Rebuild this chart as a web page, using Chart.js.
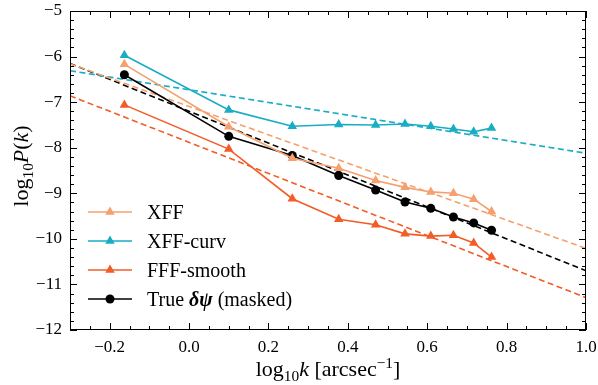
<!DOCTYPE html>
<html>
<head>
<meta charset="utf-8">
<script src="https://cdn.jsdelivr.net/npm/chart.js@4"></script>
<style>
  body { margin: 0; background: #fff; }
  #wrap { width: 598px; height: 385px; }
</style>
</head>
<body>
<div id="wrap"><canvas id="Chart" width="598" height="385"></canvas></div>
<script>
// log10 k of the bins
const logk = [-0.163, 0.100, 0.260, 0.377, 0.470, 0.544, 0.609, 0.666, 0.717, 0.762];

// log10 P(k) per reconstruction
const xff       = [-6.17, -7.54, -8.23, -8.45, -8.72, -8.87, -8.97, -9.00, -9.13, -9.40];
const xffCurv   = [-5.97, -7.17, -7.53, -7.49, -7.50, -7.48, -7.53, -7.59, -7.65, -7.57];
const fffSmooth = [-7.06, -8.03, -9.12, -9.57, -9.69, -9.89, -9.94, -9.92, -10.09, -10.40];
const trueMasked = [-6.40, -7.75, -8.17, -8.61, -8.93, -9.19, -9.33, -9.52, -9.65, -9.81];

// power-law fits, evaluated at the ends of the x range
const fitX = [-0.3, 1.0];
const xffFit       = [-6.16, -10.21];
const xffCurvFit   = [-6.31, -8.12];
const fffSmoothFit = [-6.86, -11.29];
const trueFit      = [-6.15, -10.70];

const xTicks = [-0.2, 0.0, 0.2, 0.4, 0.6, 0.8, 1.0];
const yTicks = [-12, -11, -10, -9, -8, -7, -6, -5];

const C_XFF = '#F5A06E';
const C_CURV = '#19ADC4';
const C_FFF = '#F25C26';
const C_TRUE = '#000000';

const SERIF = '"Liberation Serif", "DejaVu Serif", serif';

function pts(xs, ys) {
    return xs.map((x, i) => ({ x: x, y: ys[i] }));
}

function measured(label, ys, color, style) {
    return {
        label: label,
        data: pts(logk, ys),
        borderColor: color,
        backgroundColor: color,
        borderWidth: 1.6,
        pointStyle: style,
        pointRadius: style === 'circle' ? 4.5 : 5.5,
        pointBorderWidth: 0,
        tension: 0
    };
}

function fit(ys, color) {
    return {
        label: '',
        data: pts(fitX, ys),
        borderColor: color,
        borderWidth: 1.6,
        borderDash: [6, 3.5],
        pointRadius: 0,
        tension: 0
    };
}

const series = [
    { label: 'XFF', color: C_XFF, style: 'triangle' },
    { label: 'XFF-curv', color: C_CURV, style: 'triangle' },
    { label: 'FFF-smooth', color: C_FFF, style: 'triangle' },
    { label: 'True', color: C_TRUE, style: 'circle' }
];

function minus(s) {
    return s.replace('-', '\u2212');
}

// draw a run of text pieces (roman / italic / sub / sup) starting at x
function drawRun(ctx, parts, x, y, size) {
    parts.forEach(p => {
        const sz = p.small ? size * 0.7 : size;
        ctx.font = (p.style || '') + ' ' + sz + 'px ' + SERIF;
        ctx.fillText(p.t, x, y + (p.dy || 0));
        x += ctx.measureText(p.t).width;
    });
}

function runWidth(ctx, parts, size) {
    let w = 0;
    parts.forEach(p => {
        const sz = p.small ? size * 0.7 : size;
        ctx.font = (p.style || '') + ' ' + sz + 'px ' + SERIF;
        w += ctx.measureText(p.t).width;
    });
    return w;
}

// frame, inward ticks, axis titles and legend
const decorations = {
    id: 'decorations',
    afterDraw(chart) {
        const ctx = chart.ctx;
        const a = chart.chartArea;
        const xs = chart.scales.x;
        const ys = chart.scales.y;
        ctx.save();
        ctx.strokeStyle = '#000';
        ctx.lineWidth = 1;
        ctx.strokeRect(a.left + 0.5, a.top + 0.5, a.right - a.left - 1, a.bottom - a.top - 1);

        ctx.beginPath();
        for (let i = -6; i <= 20; i++) {
            const v = i * 0.05;
            if (v < -0.3001 || v > 1.0001) continue;
            const major = Math.abs(v * 5 - Math.round(v * 5)) < 1e-6;
            const len = major ? 7 : 4;
            const px = Math.round(xs.getPixelForValue(v)) + 0.5;
            ctx.moveTo(px, a.bottom); ctx.lineTo(px, a.bottom - len);
            ctx.moveTo(px, a.top); ctx.lineTo(px, a.top + len);
        }
        for (let i = -60; i <= -25; i++) {
            const v = i * 0.2;
            const major = i % 5 === 0;
            const len = major ? 7 : 4;
            const py = Math.round(ys.getPixelForValue(v)) + 0.5;
            ctx.moveTo(a.left, py); ctx.lineTo(a.left + len, py);
            ctx.moveTo(a.right, py); ctx.lineTo(a.right - len, py);
        }
        ctx.stroke();

        ctx.fillStyle = '#000';
        ctx.textBaseline = 'alphabetic';
        ctx.textAlign = 'left';

        // x title
        const xParts = [
            { t: 'log' },
            { t: '10', small: true, dy: 5 },
            { t: 'k', style: 'italic' },
            { t: ' [arcsec' },
            { t: '\u22121', small: true, dy: -8 },
            { t: ']' }
        ];
        const xw = runWidth(ctx, xParts, 22);
        drawRun(ctx, xParts, (a.left + a.right) / 2 - xw / 2, 376, 22);

        // y title
        const yParts = [
            { t: 'log' },
            { t: '10', small: true, dy: 5 },
            { t: 'P', style: 'italic' },
            { t: '(' },
            { t: 'k', style: 'italic' },
            { t: ')' }
        ];
        const yw = runWidth(ctx, yParts, 22);
        ctx.save();
        ctx.translate(28, 166);
        ctx.rotate(-Math.PI / 2);
        drawRun(ctx, yParts, -yw / 2, 0, 22);
        ctx.restore();

        // legend
        const rows = [212, 241, 270, 299];
        series.forEach((s, i) => {
            const y = rows[i];
            ctx.strokeStyle = s.color;
            ctx.fillStyle = s.color;
            ctx.lineWidth = 1.6;
            ctx.beginPath();
            ctx.moveTo(88, y); ctx.lineTo(132, y);
            ctx.stroke();
            Chart.helpers.drawPoint(ctx, {
                pointStyle: s.style,
                radius: s.style === 'circle' ? 4.5 : 5.5,
                borderWidth: 0
            }, 110, y);
            ctx.fillStyle = '#000';
            const parts = s.label === 'True'
                ? [{ t: 'True ' }, { t: '\u03B4\u03C8', style: 'italic bold' }, { t: ' (masked)' }]
                : [{ t: s.label }];
            drawRun(ctx, parts, 147, y + 7, 20);
        });
        ctx.restore();
    }
};

Chart.defaults.color = '#000';

const ctx = document.getElementById('Chart');

new Chart(ctx, {
    type: 'line',
    data: {
        datasets: [
            measured('XFF', xff, C_XFF, 'triangle'),
            measured('XFF-curv', xffCurv, C_CURV, 'triangle'),
            measured('FFF-smooth', fffSmooth, C_FFF, 'triangle'),
            measured('True (masked)', trueMasked, C_TRUE, 'circle'),
            fit(xffFit, C_XFF),
            fit(xffCurvFit, C_CURV),
            fit(fffSmoothFit, C_FFF),
            fit(trueFit, C_TRUE)
        ]
    },
    options: {
        responsive: false,
        animation: false,
        layout: { padding: { top: 11, right: 12, left: 0, bottom: 0 } },
        plugins: {
            legend: { display: false },
            tooltip: { enabled: false }
        },
        scales: {
            x: {
                type: 'linear',
                min: -0.3,
                max: 1.0,
                afterBuildTicks: s => { s.ticks = xTicks.map(v => ({ value: v })); },
                afterFit: s => { s.height = 55; s.paddingLeft = 0; s.paddingRight = 0; },
                grid: { display: false, drawTicks: false },
                border: { display: false },
                ticks: {
                    padding: 7,
                    maxRotation: 0,
                    font: { family: SERIF, size: 17 },
                    callback: v => minus(Number(v).toFixed(1))
                }
            },
            y: {
                type: 'linear',
                min: -12,
                max: -5,
                afterBuildTicks: s => { s.ticks = yTicks.map(v => ({ value: v })); },
                afterFit: s => { s.width = 70; s.paddingTop = 0; s.paddingBottom = 0; },
                grid: { display: false, drawTicks: false },
                border: { display: false },
                ticks: {
                    padding: 8,
                    font: { family: SERIF, size: 17 },
                    callback: v => minus(String(v))
                }
            }
        }
    },
    plugins: [decorations]
});
</script>
</body>
</html>
